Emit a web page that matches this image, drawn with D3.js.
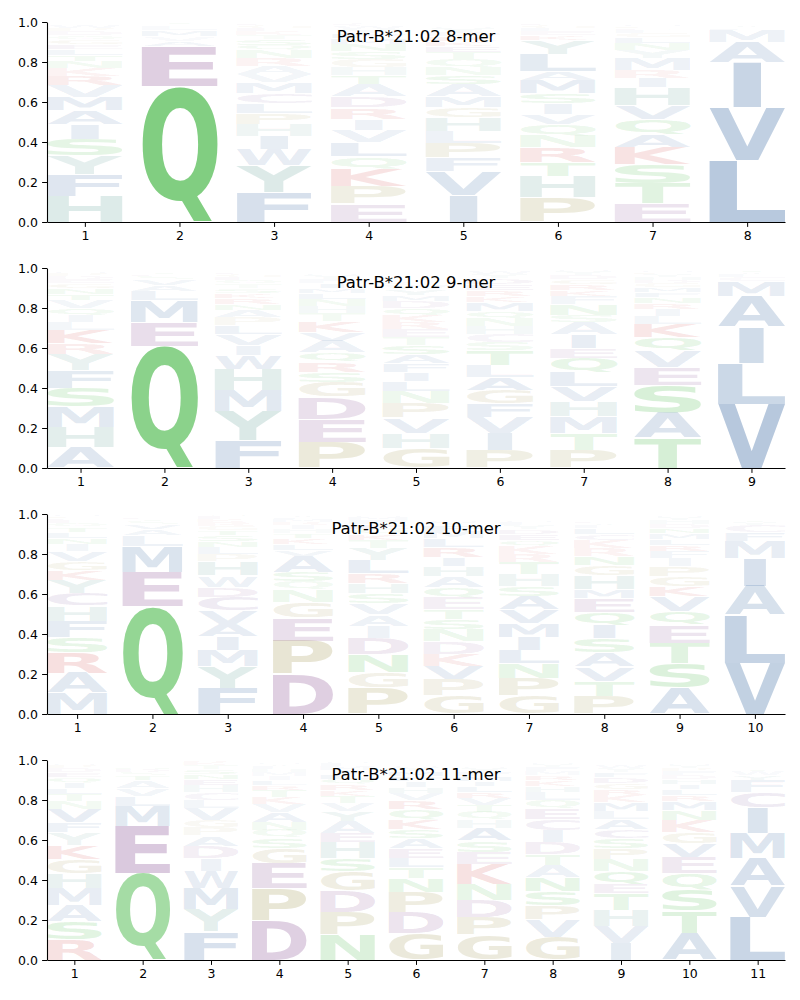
<!DOCTYPE html>
<html><head><meta charset="utf-8">
<script src="https://cdn.jsdelivr.net/npm/d3@7"></script>
<style>body{margin:0;background:#fff}svg{display:block}</style>
</head><body>
<svg id="chart" width="800" height="1000"></svg>
<script>
const titles = ["Patr-B*21:02 8-mer","Patr-B*21:02 9-mer","Patr-B*21:02 10-mer","Patr-B*21:02 11-mer"];
const yTicks = [0,0.2,0.4,0.6,0.8,1.0];

// each position: [letter, frequency] from bottom to top
const mer8 = [
 [["H",.13],["F",.11],["Y",.092],["S",.083],["I",.073],["A",.07],["M",.065],["V",.06],["R",.045],["K",.04],["N",.035],["T",.03],["L",.03],["E",.025],["G",.025],["Q",.02],["D",.02],["P",.015],["W",.015],["C",.01]],
 [["Q",.68],["E",.2],["A",.025],["V",.022],["M",.03],["L",.02],["S",.01],["T",.01]],
 [["F",.148],["Y",.135],["W",.08],["I",.067],["H",.06],["P",.055],["L",.05],["C",.05],["M",.055],["V",.04],["A",.04],["R",.04],["N",.04],["Q",.025],["S",.03],["T",.02],["K",.02],["E",.015],["G",.015],["D",.01]],
 [["E",.09],["P",.088],["K",.088],["Q",.06],["L",.07],["V",.062],["I",.055],["R",.058],["D",.055],["A",.06],["T",.045],["H",.04],["G",.04],["S",.04],["N",.035],["M",.03],["F",.025],["Y",.02],["W",.015],["C",.015]],
 [["I",.135],["V",.12],["F",.065],["P",.075],["L",.06],["H",.068],["G",.048],["M",.056],["A",.06],["S",.045],["N",.04],["Q",.04],["T",.035],["E",.03],["K",.025],["R",.025],["D",.02],["Y",.02],["W",.01],["C",.01]],
 [["P",.122],["H",.105],["T",.07],["R",.075],["N",.06],["Q",.055],["V",.05],["I",.055],["S",.05],["M",.065],["A",.045],["L",.085],["Y",.07],["K",.025],["E",.02],["F",.015],["G",.015],["D",.01],["W",.005]],
 [["E",.093],["T",.1],["S",.095],["K",.085],["A",.065],["Q",.075],["V",.07],["H",.09],["I",.045],["R",.04],["M",.06],["Y",.04],["N",.035],["L",.03],["G",.02],["F",.015],["D",.01],["P",.01],["W",.01],["C",.005]],
 [["L",.31],["V",.262],["I",.225],["A",.1],["M",.062],["F",.012],["Y",.01],["T",.008]]
];
const mer9 = [
 [["A",.105],["H",.1],["M",.1],["S",.095],["F",.087],["Y",.08],["R",.055],["K",.065],["L",.04],["I",.035],["Q",.035],["V",.04],["T",.03],["N",.03],["G",.025],["E",.02],["D",.015],["P",.015],["W",.01],["C",.01]],
 [["Q",.61],["E",.12],["M",.108],["L",.047],["A",.03],["V",.03],["S",.015],["D",.01],["T",.01]],
 [["F",.14],["Y",.145],["M",.105],["H",.105],["W",.07],["I",.05],["V",.055],["L",.045],["P",.04],["A",.035],["N",.03],["R",.03],["K",.025],["S",.025],["T",.02],["Q",.02],["E",.015],["G",.015],["D",.01],["C",.01]],
 [["P",.13],["E",.115],["D",.11],["G",.075],["S",.05],["R",.05],["Q",.045],["A",.06],["V",.045],["K",.055],["T",.04],["H",.035],["N",.035],["L",.03],["M",.025],["I",.025],["F",.02],["Y",.02],["W",.01],["C",.01]],
 [["G",.1],["H",.075],["V",.075],["P",.075],["N",.06],["L",.05],["I",.045],["F",.045],["A",.045],["S",.045],["T",.04],["E",.04],["R",.035],["K",.035],["Q",.035],["D",.035],["M",.03],["Y",.03],["W",.02],["C",.015]],
 [["P",.09],["I",.085],["V",.08],["F",.065],["G",.068],["A",.065],["L",.06],["T",.075],["S",.04],["C",.04],["H",.04],["N",.04],["Q",.035],["M",.045],["K",.03],["R",.03],["E",.03],["D",.03],["Y",.02],["W",.015]],
 [["P",.09],["T",.083],["M",.083],["H",.075],["V",.075],["L",.072],["Q",.072],["E",.05],["I",.067],["A",.06],["S",.035],["N",.055],["F",.04],["K",.03],["R",.03],["G",.025],["D",.02],["Y",.02],["W",.01],["C",.01]],
 [["T",.15],["A",.125],["S",.14],["E",.09],["V",.08],["Q",.07],["K",.065],["L",.04],["I",.035],["R",.03],["N",.03],["F",.025],["M",.025],["G",.02],["D",.015],["H",.015],["Y",.015],["P",.01],["W",.01]],
 [["V",.32],["L",.205],["I",.18],["A",.155],["M",.075],["C",.02],["F",.015],["Y",.01],["T",.01]]
];
const mer10 = [
 [["M",.105],["A",.1],["R",.1],["S",.08],["F",.08],["H",.075],["C",.065],["Y",.065],["K",.05],["G",.045],["V",.05],["I",.035],["N",.03],["L",.03],["T",.025],["Q",.02],["E",.015],["D",.01],["P",.01],["W",.01]],
 [["Q",.54],["E",.17],["M",.127],["L",.055],["A",.03],["V",.025],["S",.015],["T",.01],["D",.01]],
 [["F",.13],["Y",.11],["M",.08],["I",.065],["A",.065],["V",.065],["C",.07],["D",.05],["W",.058],["H",.07],["P",.035],["L",.035],["N",.03],["S",.03],["T",.025],["G",.02],["R",.02],["K",.015],["E",.015],["Q",.01]],
 [["D",.2],["P",.165],["E",.115],["G",.08],["N",.062],["Q",.04],["S",.047],["A",.08],["V",.03],["L",.03],["K",.03],["T",.025],["H",.02],["I",.02],["R",.015],["M",.015],["F",.01],["Y",.01]],
 [["P",.13],["G",.08],["N",.09],["D",.08],["I",.06],["A",.057],["V",.057],["S",.05],["H",.05],["R",.05],["L",.065],["Y",.06],["T",.04],["K",.03],["Q",.025],["E",.025],["F",.02],["M",.015],["W",.01],["C",.005]],
 [["G",.09],["P",.082],["V",.065],["K",.062],["D",.062],["N",.062],["S",.05],["T",.05],["E",.06],["Q",.05],["A",.055],["H",.05],["I",.045],["R",.05],["L",.045],["M",.035],["F",.03],["Y",.015],["W",.01],["C",.01]],
 [["G",.09],["P",.09],["N",.075],["L",.065],["I",.065],["M",.07],["V",.065],["A",.07],["S",.05],["H",.06],["T",.06],["R",.04],["K",.04],["Q",.03],["E",.03],["D",.025],["Y",.02],["F",.015],["W",.01],["C",.01]],
 [["P",.09],["T",.075],["V",.07],["A",.072],["S",.07],["I",.068],["Q",.065],["E",.07],["M",.045],["H",.07],["G",.05],["N",.045],["R",.04],["K",.04],["C",.03],["L",.03],["F",.015],["Y",.01],["D",.01],["W",.005]],
 [["A",.13],["S",.125],["T",.1],["E",.09],["Q",.07],["V",.075],["K",.05],["G",.05],["P",.05],["I",.04],["F",.035],["R",.03],["L",.03],["M",.03],["N",.025],["D",.02],["H",.02],["Y",.015],["W",.01]],
 [["V",.255],["L",.24],["A",.145],["I",.14],["M",.085],["F",.045],["C",.035],["Y",.015],["T",.01],["S",.01]]
];
const mer11 = [
 [["R",.1],["S",.09],["A",.085],["M",.085],["H",.072],["G",.072],["K",.07],["Y",.062],["F",.05],["V",.065],["N",.04],["T",.035],["L",.03],["I",.03],["Q",.025],["E",.025],["D",.02],["P",.015],["W",.01],["C",.005]],
 [["Q",.435],["E",.235],["M",.1],["L",.05],["V",.038],["A",.038],["T",.025],["S",.015],["D",.015],["N",.01],["G",.01]],
 [["F",.142],["Y",.112],["M",.106],["W",.085],["I",.063],["D",.062],["A",.052],["P",.04],["G",.035],["V",.06],["L",.04],["C",.04],["H",.035],["E",.03],["N",.025],["S",.025],["T",.02],["K",.015],["R",.01],["Q",.005]],
 [["D",.197],["P",.16],["E",.125],["G",.078],["S",.05],["Q",.04],["N",.04],["A",.05],["V",.04],["K",.035],["T",.035],["R",.025],["L",.025],["I",.02],["M",.02],["H",.015],["F",.015],["Y",.01],["W",.01],["C",.01]],
 [["N",.125],["P",.115],["D",.108],["G",.095],["S",.065],["H",.08],["E",.045],["A",.06],["Y",.05],["V",.04],["T",.035],["K",.03],["R",.03],["Q",.025],["L",.025],["I",.02],["M",.02],["F",.015],["W",.01],["C",.005]],
 [["G",.133],["D",.105],["P",.1],["N",.07],["T",.055],["L",.045],["E",.05],["A",.05],["S",.045],["K",.05],["Q",.05],["R",.045],["V",.035],["H",.03],["I",.03],["F",.025],["M",.025],["Y",.02],["W",.01],["C",.01]],
 [["G",.125],["P",.09],["D",.085],["N",.08],["K",.1],["E",.06],["S",.055],["A",.065],["H",.04],["Q",.04],["T",.035],["V",.035],["R",.03],["L",.03],["I",.025],["M",.025],["F",.02],["Y",.02],["W",.01],["C",.01]],
 [["G",.115],["V",.085],["P",.07],["S",.072],["N",.07],["A",.06],["T",.055],["D",.06],["I",.06],["C",.055],["E",.055],["Q",.04],["L",.04],["H",.03],["K",.03],["R",.025],["M",.02],["F",.02],["Y",.015],["W",.01]],
 [["I",.085],["V",.085],["H",.08],["T",.085],["E",.045],["Q",.065],["N",.06],["P",.055],["S",.05],["C",.045],["A",.05],["L",.04],["M",.045],["K",.035],["R",.03],["G",.03],["D",.03],["F",.025],["Y",.02],["W",.015]],
 [["A",.135],["T",.11],["S",.105],["Q",.085],["E",.078],["V",.068],["G",.055],["K",.06],["N",.05],["M",.045],["R",.03],["L",.03],["I",.025],["H",.025],["D",.02],["F",.02],["P",.015],["Y",.015],["W",.01]],
 [["L",.215],["V",.155],["A",.14],["M",.125],["I",.128],["C",.075],["F",.062],["Y",.025],["W",.02],["T",.01],["S",.01]]
];
const logos = [mer8, mer9, mer10, mer11];

// colour groups
const groupOf = {A:"hyd",V:"hyd",L:"hyd",I:"hyd",M:"hyd",F:"hyd",W:"hyd",
  H:"aro",Y:"aro",N:"pol",Q:"pol",S:"pol",T:"pol",P:"small",G:"small",
  D:"acid",E:"acid",K:"base",R:"base",C:"cys"};
const groupColor = {hyd:"rgb(75,118,170)",aro:"rgb(90,155,145)",pol:"rgb(75,185,75)",
  small:"rgb(160,150,80)",acid:"rgb(140,85,150)",base:"rgb(210,70,70)",cys:"rgb(130,100,160)"};
const alpha = d3.scalePow().exponent(0.75).domain([0,1]).range([0,0.94]);

const svg = d3.select("#chart");
const X0 = 47, X1 = 785, PH = 200;
const tops = [22, 268, 514, 760];
const FONT = "DejaVu Sans";

// glyph ink metrics
const cv = document.createElement("canvas");
const ctx = cv.getContext("2d");
const FS = 100;
ctx.font = `bold ${FS}px "${FONT}"`;
const metricCache = {};
function met(ch){
  if(!metricCache[ch]){
    const m = ctx.measureText(ch);
    metricCache[ch] = {l:m.actualBoundingBoxLeft, r:m.actualBoundingBoxRight,
      a:m.actualBoundingBoxAscent, d:m.actualBoundingBoxDescent};
  }
  return metricCache[ch];
}
const mE = met("E");
const wE = mE.l + mE.r;

logos.forEach((cols, k) => {
  const n = cols.length;
  const positions = d3.range(1, n+1);
  const top = tops[k];
  const x = d3.scaleLinear().domain([0.6, n+0.4]).range([X0, X1]);
  const y = d3.scaleLinear().domain([0,1]).range([top+PH, top]);
  const g = svg.append("g");
  const boxW = (x(2)-x(1))*0.8;

  cols.forEach((col, i) => {
    let cum = 0;
    const xc = x(positions[i]);
    col.forEach(([ch, f]) => {
      const yb = y(cum), yt = y(cum+f);
      cum += f;
      let h = yb - yt;
      let bottom = yb;
      if(h > 1.4){ h -= 0.7; bottom -= 0.35; }
      const m = met(ch);
      const iw = m.l + m.r, ih = m.a + m.d;
      const sx = Math.min(boxW/iw, boxW/wE);
      const sy = h/ih;
      const tx = xc - sx*(m.r - m.l)/2;
      const ty = bottom - sy*m.d;
      g.append("text")
        .attr("transform", `translate(${tx},${ty}) scale(${sx},${sy})`)
        .attr("font-family", FONT).attr("font-weight","bold").attr("font-size", FS)
        .attr("fill", groupColor[groupOf[ch]])
        .attr("fill-opacity", alpha(f))
        .text(ch);
    });
  });

  const yAxis = d3.axisLeft(y).tickValues(yTicks).tickFormat(d3.format(".1f"))
    .tickSize(4.9).tickPadding(4.2).tickSizeOuter(0);
  const xAxis = d3.axisBottom(x).tickValues(positions).tickFormat(d3.format("d"))
    .tickSize(4.9).tickPadding(4.2).tickSizeOuter(0);
  const ya = svg.append("g").attr("transform", `translate(${X0},0)`).call(yAxis);
  const xa = svg.append("g").attr("transform", `translate(0,${top+PH})`).call(xAxis);
  [ya, xa].forEach(a => {
    a.selectAll("text").attr("font-family", FONT).attr("font-size", 12.5).attr("fill","#000");
    a.selectAll("line").attr("stroke","#000").attr("stroke-width",1);
    a.select(".domain").attr("stroke","#000").attr("stroke-width",1.1);
  });

  svg.append("text").attr("x", (X0+X1)/2).attr("y", top+19.7)
    .attr("text-anchor","middle").attr("font-family", FONT).attr("font-size", 16.5)
    .attr("fill","#000").text(titles[k]);
});
</script>
</body></html>
